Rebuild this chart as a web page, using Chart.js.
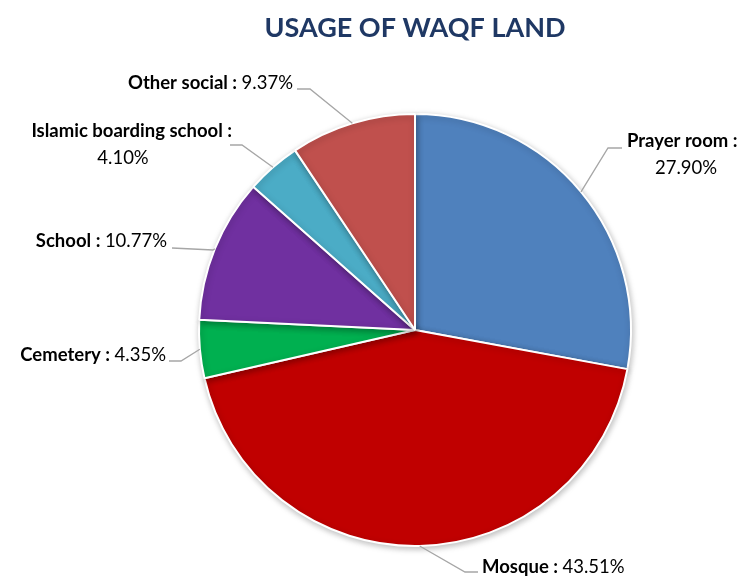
<!DOCTYPE html>
<html>
<head>
<meta charset="utf-8">
<script src="https://cdn.jsdelivr.net/npm/chart.js@4.4.1/dist/chart.umd.min.js"></script>
<style>
  html, body { margin: 0; padding: 0; background: #fff; }
  #wrap { width: 749px; height: 577px; }
</style>
</head>
<body>
<div id="wrap"><canvas id="pieChart" width="749" height="577"></canvas></div>
<script>
// dados do gráfico
const titleText = 'USAGE OF WAQF LAND';
const categories = ['Prayer room', 'Mosque', 'Cemetery', 'School', 'Islamic boarding school', 'Other social'];
const shares = [27.90, 43.51, 4.35, 10.77, 4.10, 9.37];
const sliceColors = ['#4F81BD', '#C00000', '#00B050', '#7030A0', '#4BACC6', '#C0504D'];

// posição dos rótulos (cotovelo da linha, ponto final, texto)
const labelLayout = [
  { elbow: [608, 148], end: [622, 148], x: 627, y: 141, align: 'left', twoLines: true, cx: 686 },
  { elbow: [465, 572], end: [478, 572], x: 482, y: 567, align: 'left' },
  { elbow: [181, 361], end: [169, 361], x: 166, y: 355, align: 'right' },
  { elbow: [213, 250], end: [172, 248], x: 167, y: 241, align: 'right' },
  { elbow: [242, 145], end: [230, 145], x: 232, y: 131, align: 'right', twoLines: true, cx: 123 },
  { elbow: [310, 89], end: [297, 89], x: 293, y: 83, align: 'right' }
];

const FONT = 'Lato, "Open Sans", sans-serif';

const labelsPlugin = {
  id: 'pieLabels',
  beforeDatasetsDraw(chart) {
    const ctx = chart.ctx;
    ctx.save();
    ctx.shadowColor = 'rgba(0,0,0,0.25)';
    ctx.shadowBlur = 6;
    ctx.shadowOffsetX = 1;
    ctx.shadowOffsetY = 2;
  },
  afterDatasetsDraw(chart) {
    const ctx = chart.ctx;
    ctx.restore();
    ctx.save();
    // título
    const cx0 = (chart.chartArea.left + chart.chartArea.right) / 2;
    ctx.font = 'bold 27px ' + FONT;
    ctx.fillStyle = '#1F3864';
    ctx.textAlign = 'center';
    ctx.textBaseline = 'middle';
    ctx.fillText(titleText, cx0, 28);

    const meta = chart.getDatasetMeta(0);
    meta.data.forEach((arc, i) => {
      const L = labelLayout[i];
      const mid = (arc.startAngle + arc.endAngle) / 2;
      const px = arc.x + Math.cos(mid) * arc.outerRadius;
      const py = arc.y + Math.sin(mid) * arc.outerRadius;
      ctx.strokeStyle = '#A6A6A6';
      ctx.lineWidth = 1.3;
      ctx.beginPath();
      ctx.moveTo(px, py);
      ctx.lineTo(L.elbow[0], L.elbow[1]);
      ctx.lineTo(L.end[0], L.end[1]);
      ctx.stroke();

      const name = categories[i] + ' : ';
      const val = shares[i].toFixed(2) + '%';
      ctx.fillStyle = '#000';
      ctx.textBaseline = 'middle';
      const boldF = 'bold 18.5px ' + FONT;
      const regF = '18.5px ' + FONT;
      if (L.twoLines) {
        ctx.font = boldF;
        ctx.textAlign = L.align;
        ctx.fillText(name.trimEnd(), L.x, L.y);
        ctx.font = regF;
        ctx.textAlign = 'center';
        ctx.fillText(val, L.cx, L.y + 27);
      } else {
        ctx.font = boldF;
        const wn = ctx.measureText(name).width;
        ctx.font = regF;
        const wv = ctx.measureText(val).width;
        const left = L.align === 'left' ? L.x : L.x - wn - wv;
        ctx.textAlign = 'left';
        ctx.font = boldF;
        ctx.fillText(name, left, L.y);
        ctx.font = regF;
        ctx.fillText(val, left + wn, L.y);
      }
    });
    ctx.restore();
  }
};

new Chart(document.getElementById('pieChart').getContext('2d'), {
  type: 'pie',
  data: {
    labels: categories,
    datasets: [{
      data: shares,
      backgroundColor: sliceColors,
      borderColor: '#ffffff',
      borderWidth: 2
    }]
  },
  options: {
    responsive: false,
    animation: false,
    layout: { padding: { top: 113, bottom: 30, left: 198, right: 117 } },
    plugins: {
      legend: { display: false },
      tooltip: { enabled: false },
      title: { display: false }
    }
  },
  plugins: [labelsPlugin]
});
</script>
</body>
</html>
